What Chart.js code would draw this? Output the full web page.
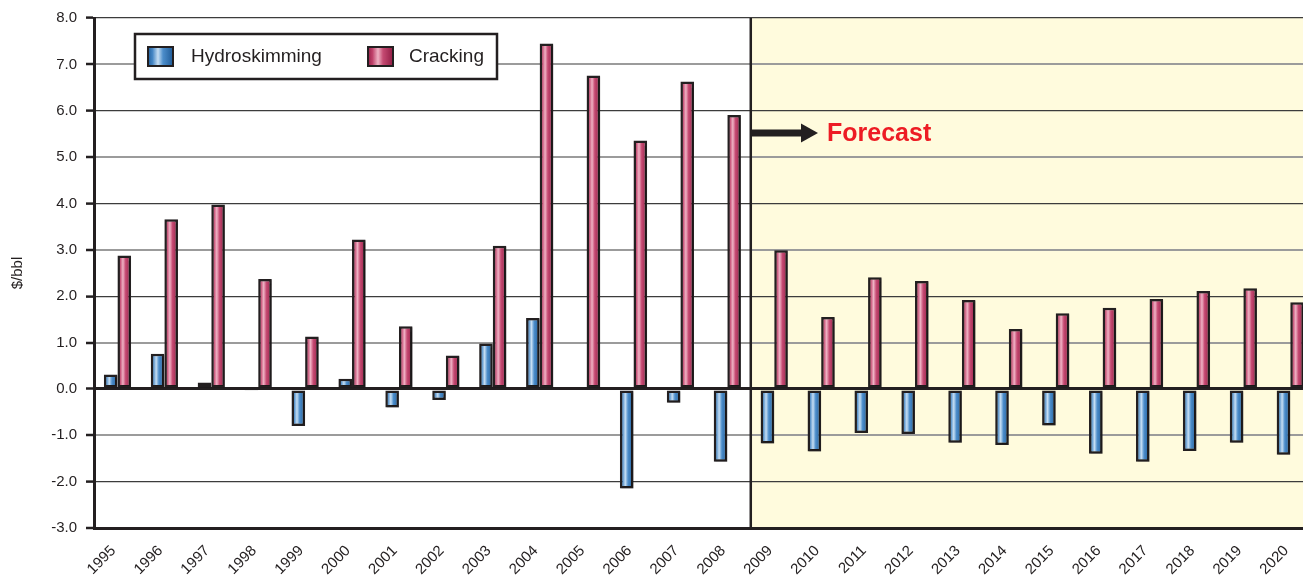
<!DOCTYPE html>
<html>
<head>
<meta charset="utf-8">
<script src="https://cdn.jsdelivr.net/npm/chart.js@4.4.1/dist/chart.umd.min.js"></script>
<style>
  html, body { margin: 0; padding: 0; background: #ffffff; overflow: hidden; }
  #wrap { position: relative; width: 1317px; height: 580px; }
</style>
</head>
<body>
<div id="wrap"><canvas id="chart"></canvas></div>
<script>
// Refining margins, $/bbl, 1995-2008 actual, 2009-2020 forecast
const years = ['1995','1996','1997','1998','1999','2000','2001','2002','2003','2004','2005','2006','2007',
  '2008','2009','2010','2011','2012','2013','2014','2015','2016','2017','2018','2019','2020'];
const hydroskimming = [0.31, 0.76, 0.14, -0.04, -0.80, 0.22, -0.40, -0.24, 0.98, 1.53, 0, -2.15, -0.30,
  -1.57, -1.18, -1.35, -0.95, -0.97, -1.16, -1.21, -0.79, -1.40, -1.57, -1.34, -1.16, -1.42];
const cracking = [2.88, 3.66, 3.98, 2.37, 1.13, 3.22, 1.35, 0.72, 3.09, 7.45, 6.76, 5.36, 6.63,
  5.91, 2.99, 1.55, 2.41, 2.33, 1.92, 1.29, 1.63, 1.75, 1.94, 2.11, 2.17, 1.87];
const seriesNames = ['Hydroskimming', 'Cracking'];
const yTicks = [-3, -2, -1, 0, 1, 2, 3, 4, 5, 6, 7, 8];
const firstForecastYear = '2009';
const forecastLabel = 'Forecast';

const FONT = '"Liberation Sans", Arial, Helvetica, sans-serif';
const INK = '#231f20';
const CAT_PCT = 0.58;

// edge, mid, highlight, mid, edge
const palettes = [
  ['#22609e', '#4586c4', '#c6def3', '#4c8dca', '#1f5b98'],
  ['#972049', '#c0426b', '#efb2c4', '#c54a72', '#921d45']
];

function barGradient(ctx, left, width, pal) {
  const g = ctx.createLinearGradient(left, 0, left + width, 0);
  g.addColorStop(0, pal[0]);
  g.addColorStop(0.18, pal[1]);
  g.addColorStop(0.4, pal[2]);
  g.addColorStop(0.6, pal[3]);
  g.addColorStop(1, pal[4]);
  return g;
}

// Each bar gets its own horizontal sheen, computed from the drawn geometry
const barSheen = {
  id: 'barSheen',
  beforeDatasetsDraw(chart) {
    chart.data.datasets.forEach((ds, i) => {
      const meta = chart.getDatasetMeta(i);
      meta.data.forEach((el) => {
        const { x, width } = el.getProps(['x', 'width'], true);
        const fill = barGradient(chart.ctx, x - width / 2, width, palettes[i]);
        el.options = Object.assign({}, el.options, { backgroundColor: fill });
      });
    });
  }
};

// Pale background behind the forecast years
const forecastShade = {
  id: 'forecastShade',
  beforeDraw(chart) {
    const { ctx, chartArea, scales } = chart;
    const xDiv = scales.x.getPixelForValue(years.indexOf(firstForecastYear) - 0.5);
    ctx.save();
    ctx.fillStyle = '#fffbdd';
    ctx.fillRect(xDiv, chartArea.top, chartArea.right - xDiv, chartArea.bottom - chartArea.top);
    ctx.restore();
  },
  beforeDatasetsDraw(chart) {
    const { ctx, chartArea, scales } = chart;
    const xDiv = scales.x.getPixelForValue(years.indexOf(firstForecastYear) - 0.5);
    ctx.save();
    ctx.strokeStyle = INK;
    ctx.lineWidth = 2.5;
    ctx.beginPath();
    ctx.moveTo(xDiv, chartArea.top);
    ctx.lineTo(xDiv, chartArea.bottom);
    ctx.stroke();
    ctx.restore();
  }
};

// Soft drop shadow under the bars
const barShadow = {
  id: 'barShadow',
  beforeDatasetDraw(chart) {
    const ctx = chart.ctx;
    ctx.save();
    ctx.shadowColor = 'rgba(0,0,0,0.28)';
    ctx.shadowOffsetX = 1.5;
    ctx.shadowOffsetY = 1;
    ctx.shadowBlur = 1;
  },
  afterDatasetDraw(chart) {
    chart.ctx.restore();
  }
};

// Legend box, forecast arrow and label
const overlay = {
  id: 'overlay',
  afterDraw(chart) {
    const { ctx, scales } = chart;
    ctx.save();

    // legend
    const bx = 135, by = 34, bw = 362, bh = 45;
    ctx.fillStyle = '#ffffff';
    ctx.fillRect(bx, by, bw, bh);
    ctx.strokeStyle = INK;
    ctx.lineWidth = 2.5;
    ctx.strokeRect(bx, by, bw, bh);
    const items = [{ sx: 148, tx: 191 }, { sx: 368, tx: 409 }];
    chart.data.datasets.forEach((ds, i) => {
      const it = items[i];
      ctx.fillStyle = barGradient(ctx, it.sx, 25, palettes[i]);
      ctx.fillRect(it.sx, 47, 25, 19);
      ctx.strokeStyle = INK;
      ctx.lineWidth = 2;
      ctx.strokeRect(it.sx, 47, 25, 19);
      ctx.fillStyle = INK;
      ctx.font = '19px ' + FONT;
      ctx.textBaseline = 'middle';
      ctx.textAlign = 'left';
      ctx.fillText(ds.label, it.tx, 56.5);
    });

    // forecast arrow
    const xDiv = scales.x.getPixelForValue(years.indexOf(firstForecastYear) - 0.5);
    const ay = 133;
    ctx.fillStyle = INK;
    ctx.fillRect(xDiv, ay - 3.5, 803 - xDiv, 7);
    ctx.beginPath();
    ctx.moveTo(801, ay - 9.5);
    ctx.lineTo(818, ay);
    ctx.lineTo(801, ay + 9.5);
    ctx.closePath();
    ctx.fill();

    ctx.fillStyle = '#ed1c24';
    ctx.font = 'bold 25px ' + FONT;
    ctx.textAlign = 'left';
    ctx.textBaseline = 'middle';
    ctx.fillText(forecastLabel, 827, ay + 1);
    ctx.restore();
  }
};

const gridColor = (c) => {
  const v = c.tick ? c.tick.value : 0;
  if (v === 0) return INK;
  return Math.abs(v) % 2 === 1 ? '#9b9b9b' : '#3c3c3c';
};
const gridWidth = (c) => {
  const v = c.tick ? c.tick.value : 0;
  if (v === 0) return 3;
  return Math.abs(v) % 2 === 1 ? 2 : 1.2;
};

new Chart(document.getElementById('chart'), {
  type: 'bar',
  data: {
    labels: years,
    datasets: [
      { label: seriesNames[0], data: hydroskimming, backgroundColor: palettes[0][1] },
      { label: seriesNames[1], data: cracking, backgroundColor: palettes[1][1] }
    ]
  },
  options: {
    responsive: true,
    maintainAspectRatio: false,
    animation: false,
    devicePixelRatio: 1,
    layout: { padding: { top: 18, left: 0, right: 0, bottom: 0 } },
    datasets: {
      bar: {
        categoryPercentage: CAT_PCT,
        barPercentage: 1,
        borderColor: INK,
        borderWidth: 2.5,
        borderSkipped: false
      }
    },
    plugins: {
      legend: { display: false },
      tooltip: { enabled: false }
    },
    scales: {
      x: {
        grid: { display: false, drawTicks: false },
        border: { display: true, color: INK, width: 3 },
        ticks: {
          autoSkip: false,
          minRotation: 45,
          maxRotation: 45,
          padding: 14,
          labelOffset: -4,
          color: INK,
          font: { family: FONT, size: 15 }
        },
        afterFit(s) { s.height = 52; }
      },
      y: {
        min: -3,
        max: 8,
        afterBuildTicks(s) { s.ticks = yTicks.map(v => ({ value: v })); },
        grid: {
          color: gridColor,
          lineWidth: gridWidth,
          drawTicks: true,
          tickLength: 8,
          tickColor: INK,
          tickWidth: 2.5
        },
        border: { display: true, color: INK, width: 3 },
        ticks: {
          padding: 9,
          color: INK,
          font: { family: FONT, size: 15 },
          callback: (v) => Number(v).toFixed(1)
        },
        title: {
          display: true,
          text: '$/bbl',
          color: INK,
          font: { family: FONT, size: 15 },
          padding: { top: 9, bottom: 0 }
        },
        afterFit(s) { s.width = 94; }
      }
    }
  },
  plugins: [forecastShade, barSheen, barShadow, overlay]
});
</script>
</body>
</html>
